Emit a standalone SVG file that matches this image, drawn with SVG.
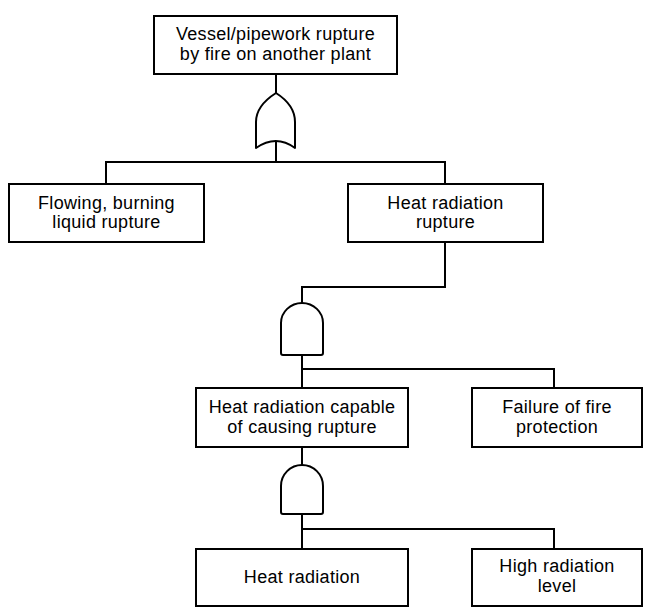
<svg xmlns="http://www.w3.org/2000/svg" width="653" height="614" viewBox="0 0 653 614">
<style>
  .box { fill: #fff; stroke: #000; stroke-width: 2; }
  .gate { fill: #fff; stroke: #000; stroke-width: 2; stroke-linejoin: round; }
  .wire { fill: none; stroke: #000; stroke-width: 2; }
  text { font-family: "Liberation Sans", Arial, sans-serif; font-size: 18px; letter-spacing: 0.3px; fill: #000; text-anchor: middle; }
</style>
<rect width="653" height="614" fill="#fff"/>
<g id="connectors">
  <path class="wire" d="M276,74 V93"/>
  <path class="wire" d="M276,142 V162"/>
  <path class="wire" d="M106,184 V162 H445 V184"/>
  <path class="wire" d="M445,242 V287 H302 V303"/>
  <path class="wire" d="M302,355 V388"/>
  <path class="wire" d="M302,369 H554 V387"/>
  <path class="wire" d="M302,447 V465"/>
  <path class="wire" d="M302,514 V549"/>
  <path class="wire" d="M302,529 H554 V549"/>
</g>
<g id="top">
  <rect class="box" x="154" y="16" width="243" height="58"/>
  <text x="275.5" y="40">Vessel/pipework rupture</text>
  <text x="275.5" y="60">by fire on another plant</text>
</g>
<g id="or-gate">
  <path class="gate" d="M276,93 C265,100 256,110 256,122 L256,148 Q276,134 295,148 L295,122 C295,110 287,100 276,93 Z"/>
</g>
<g id="flowing">
  <rect class="box" x="9" y="184" width="195" height="58"/>
  <text x="106.5" y="208.5">Flowing, burning</text>
  <text x="106.5" y="228">liquid rupture</text>
</g>
<g id="heat-rupture">
  <rect class="box" x="348" y="184" width="195" height="58"/>
  <text x="445.5" y="208.5">Heat radiation</text>
  <text x="445.5" y="228">rupture</text>
</g>
<g id="and-gate-1">
  <path class="gate" d="M281,323 A21,20 0 0 1 323,323 V353 Q323,355 321,355 H283 Q281,355 281,353 Z"/>
</g>
<g id="capable">
  <rect class="box" x="196" y="388" width="212" height="59"/>
  <text x="302" y="412.5">Heat radiation capable</text>
  <text x="302" y="432.5">of causing rupture</text>
</g>
<g id="failure">
  <rect class="box" x="472" y="388" width="170" height="59"/>
  <text x="557" y="412.5">Failure of fire</text>
  <text x="557" y="432.5">protection</text>
</g>
<g id="and-gate-2">
  <path class="gate" d="M281,486 A21,21 0 0 1 323,486 V512 Q323,514 321,514 H283 Q281,514 281,512 Z"/>
</g>
<g id="heat-radiation">
  <rect class="box" x="196" y="549" width="212" height="57"/>
  <text x="302" y="583">Heat radiation</text>
</g>
<g id="high-level">
  <rect class="box" x="472" y="549" width="170" height="57"/>
  <text x="557" y="572">High radiation</text>
  <text x="557" y="592">level</text>
</g>
</svg>
